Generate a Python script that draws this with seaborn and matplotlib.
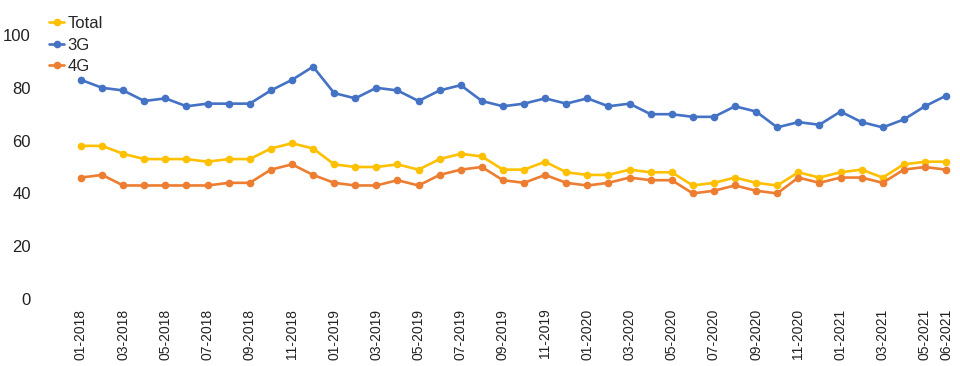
import numpy as np
import pandas as pd
import seaborn as sns
import matplotlib.pyplot as plt

months = [f"{m:02d}-{y}" for y in range(2018, 2022) for m in range(1, 13)][:42]

total = [58, 58, 55, 53, 53, 53, 52, 53, 53, 57, 59, 57,
         51, 50, 50, 51, 49, 53, 55, 54, 49, 49, 52, 48, 47, 47, 49, 48,
         48, 43, 44, 46, 44, 43, 48, 46, 48, 49, 46, 51, 52, 52]
g3 = [83, 80, 79, 75, 76, 73, 74, 74, 74, 79, 83, 88,
      78, 76, 80, 79, 75, 79, 81, 75, 73, 74, 76, 74, 76, 73, 74, 70,
      70, 69, 69, 73, 71, 65, 67, 66, 71, 67, 65, 68, 73, 77]
g4 = [46, 47, 43, 43, 43, 43, 43, 44, 44, 49, 51, 47,
      44, 43, 43, 45, 43, 47, 49, 50, 45, 44, 47, 44, 43, 44, 46, 45,
      45, 40, 41, 43, 41, 40, 46, 44, 46, 46, 44, 49, 50, 49]

tick_labels = months[::2] + [months[-1]]
tick_pos = list(range(0, 42, 2)) + [41]

df = pd.DataFrame({
    "idx": list(range(42)) * 3,
    "value": total + g3 + g4,
    "series": ["Total"] * 42 + ["3G"] * 42 + ["4G"] * 42,
})

sns.set_style("white")
plt.rcParams["font.family"] = ["Liberation Sans", "DejaVu Sans"]

fig = plt.figure(figsize=(9.6, 3.66), dpi=100)
ax = fig.add_axes([35 / 960, 67 / 366, (956 - 35) / 960, (299 - 35) / 366])

sns.lineplot(
    data=df,
    x="idx",
    y="value",
    hue="series",
    palette={"Total": "#FFC000", "3G": "#4472C4", "4G": "#ED7D31"},
    marker="o",
    markersize=5.5,
    markeredgewidth=0,
    linewidth=1.9,
    ax=ax,
)

ax.set_xlim(-(81 - 35) / 21.1, 41 + 10 / 21.1)
ax.set_ylim(0, 100)
ax.set_yticks(range(0, 101, 20))
ax.set_xticks(tick_pos)
ax.set_xticklabels(tick_labels, rotation=90)
ax.tick_params(axis="both", length=0, colors="#222222")
ax.tick_params(axis="x", pad=7, labelsize=10)
ax.tick_params(axis="y", pad=3, labelsize=12)
ax.set_xlabel("")
ax.set_ylabel("")
sns.despine(ax=ax, left=True, bottom=True)

ax.legend(
    loc="upper left",
    bbox_to_anchor=(41 / 960, 1 - 8 / 366),
    bbox_transform=fig.transFigure,
    frameon=False,
    fontsize=12,
    handlelength=0.9,
    handletextpad=0.2,
    labelspacing=0.38,
    borderpad=0,
)

fig.savefig("out.png", dpi=100)
